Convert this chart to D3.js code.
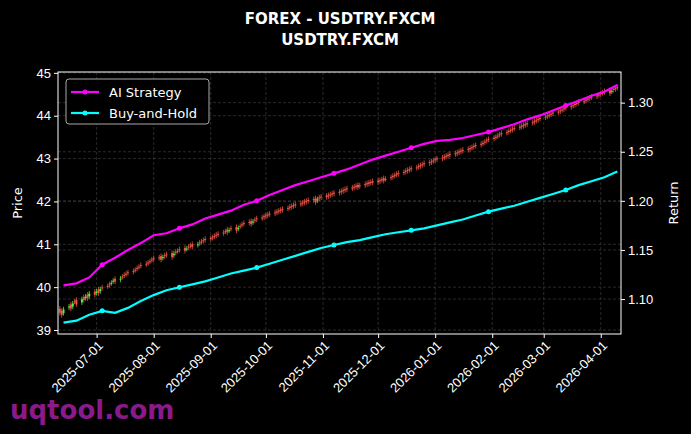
<!DOCTYPE html>
<html><head><meta charset="utf-8">
<script src="https://cdn.jsdelivr.net/npm/d3@7"></script>
<style>body{margin:0;background:#000}svg{font-family:"DejaVu Sans",sans-serif}</style>
</head><body><svg id="c" width="691" height="434"></svg>
<script>
// data
const dayStart = '2025-06-11';
const closes = [
  39.40,39.35,39.48,39.55,39.50,39.62,39.66,39.60,39.72,39.70,39.78,39.74,39.85,39.82,
  39.90,39.86,39.95,39.98,40.02,40.05,40.10,40.15,40.13,40.20,40.24,40.27,40.30,40.33,40.36,40.40,40.43,40.47,40.50,40.53,40.56,40.60,40.63,
  40.65,40.68,40.64,40.70,40.72,40.75,40.70,40.78,40.80,40.84,40.87,40.85,40.90,40.93,40.96,40.94,41.00,41.02,41.05,41.08,41.10,
  41.12,41.15,41.18,41.20,41.23,41.26,41.30,41.28,41.33,41.36,41.32,41.38,41.42,41.45,41.48,41.50,41.47,41.53,41.56,41.58,41.61,41.63,
  41.65,41.67,41.70,41.72,41.74,41.76,41.78,41.80,41.83,41.85,41.87,41.89,41.91,41.93,41.95,41.97,41.99,42.01,42.03,41.98,42.05,42.07,42.09,
  42.10,42.12,42.14,42.16,42.18,42.20,42.22,42.24,42.26,42.28,42.30,42.32,42.34,42.33,42.36,42.38,42.40,42.41,42.43,42.44,
  42.45,42.47,42.50,42.48,42.52,42.55,42.57,42.60,42.62,42.64,42.67,42.69,42.71,42.73,42.75,42.78,42.80,42.82,42.85,42.87,42.89,42.91,42.94,
  42.96,42.98,43.00,43.02,43.04,43.06,43.08,43.10,43.12,43.14,43.16,43.18,43.20,43.22,43.25,43.27,43.30,43.32,43.35,43.38,43.41,43.44,
  43.46,43.49,43.52,43.55,43.57,43.60,43.62,43.65,43.67,43.70,43.72,43.74,43.76,43.78,43.80,43.83,43.85,43.88,43.90,43.93,
  43.96,43.98,44.00,44.03,44.05,44.08,44.10,44.13,44.15,44.18,44.20,44.23,44.25,44.28,44.30,44.33,44.35,44.38,44.40,44.43,44.45,44.48,
  44.50,44.53,44.55,44.52,44.58,44.60,44.62,44.65
];
const weekStart = '2025-06-13';
const aiStrategy = [1.114,1.116,1.122,1.135,1.142,1.150,1.157,1.165,1.167,1.172,1.176,1.182,1.186,1.190,1.196,1.200,1.206,1.211,1.216,1.220,1.224,1.228,1.232,1.237,1.242,1.246,1.250,1.254,1.258,1.261,1.262,1.264,1.267,1.270,1.274,1.278,1.283,1.287,1.292,1.297,1.302,1.307,1.311,1.318];
const buyHold = [1.076,1.078,1.084,1.088,1.086,1.091,1.098,1.104,1.109,1.112,1.115,1.118,1.122,1.126,1.129,1.132,1.136,1.140,1.144,1.148,1.152,1.155,1.158,1.160,1.163,1.166,1.168,1.170,1.172,1.175,1.178,1.181,1.185,1.189,1.192,1.195,1.199,1.203,1.207,1.211,1.216,1.220,1.224,1.230];
const priceTicks = [39,40,41,42,43,44,45];
const returnTicks = [1.10,1.15,1.20,1.25,1.30];
const monthTicks = ['2025-07-01','2025-08-01','2025-09-01','2025-10-01','2025-11-01','2025-12-01','2026-01-01','2026-02-01','2026-03-01','2026-04-01'];

const parse = d3.utcParse('%Y-%m-%d');
// trading days (weekdays)
let days = [], d = parse(dayStart);
while (days.length < closes.length) {
  if (d.getUTCDay() % 6 != 0) days.push(d);
  d = d3.utcDay.offset(d, 1);
}
const candles = closes.map((c, i) => {
  let o = i ? closes[i-1] + 0.045 : c + 0.1;
  return {date: days[i], o, c, h: Math.max(o, c) + 0.06, l: Math.min(o, c) - 0.06};
});
const weeks = aiStrategy.map((v, i) => ({date: d3.utcDay.offset(parse(weekStart), 7*i), ai: v, bh: buyHold[i]}));

const svg = d3.select('#c');
const L = 58, R = 621, T = 72, B = 334;
const x = d3.scaleUtc().domain([parse('2025-06-10'), parse('2026-04-12')]).range([L, R]);
const y = d3.scaleLinear().domain([38.907, 45.02]).range([B, T]);
const y2 = d3.scaleLinear().domain([1.0644, 1.3312]).range([B, T]);

// grid
const grid = svg.append('g').attr('stroke', '#444').attr('stroke-dasharray', '3,2').attr('stroke-width', 0.6);
monthTicks.forEach(t => grid.append('line').attr('x1', x(parse(t))).attr('x2', x(parse(t))).attr('y1', T).attr('y2', B));
priceTicks.forEach(t => grid.append('line').attr('x1', L).attr('x2', R).attr('y1', y(t)).attr('y2', y(t)));
returnTicks.forEach(t => grid.append('line').attr('x1', L).attr('x2', R).attr('y1', y2(t)).attr('y2', y2(t)));

// candles
const cg = svg.append('g');
candles.forEach(k => {
  let col = k.c >= k.o ? '#55ee44' : '#ee5544';
  let cx = x(k.date);
  cg.append('line').attr('x1', cx).attr('x2', cx).attr('y1', y(k.h)).attr('y2', y(k.l)).attr('stroke', col).attr('stroke-width', 0.8);
  cg.append('rect').attr('x', cx - 1).attr('width', 2).attr('y', y(Math.max(k.o, k.c)))
    .attr('height', Math.max(1, Math.abs(y(k.o) - y(k.c)))).attr('fill', col);
});

// return lines
[['ai', '#ff00ff'], ['bh', '#00ffff']].forEach(([key, col]) => {
  svg.append('path').datum(weeks).attr('fill', 'none').attr('stroke', col).attr('stroke-width', 2.2)
    .attr('d', d3.line().x(w => x(w.date)).y(w => y2(w[key])));
  svg.selectAll(null).data(weeks.filter((w, i) => i % 6 == 3)).enter().append('circle')
    .attr('cx', w => x(w.date)).attr('cy', w => y2(w[key])).attr('r', 2.5).attr('fill', col);
});

// axes
const styleAxis = g => { g.selectAll('path,line').attr('stroke', '#fff'); g.selectAll('text').attr('fill', '#fff').attr('font-size', 13); g.select('.domain').remove(); };
svg.append('g').attr('transform', `translate(${L},0)`).call(d3.axisLeft(y).tickValues(priceTicks).tickSize(4).tickFormat(d3.format('d'))).call(styleAxis);
svg.append('g').attr('transform', `translate(${R},0)`).call(d3.axisRight(y2).tickValues(returnTicks).tickSize(4).tickFormat(d3.format('.2f'))).call(styleAxis);
svg.append('g').attr('transform', `translate(0,${B})`).call(d3.axisBottom(x).tickValues(monthTicks.map(parse)).tickSize(4).tickFormat(d3.utcFormat('%Y-%m-%d')))
  .call(styleAxis)
  .selectAll('text').attr('text-anchor', 'end').attr('dx', '-0.3em').attr('dy', '0.5em').attr('transform', 'rotate(-45)');
svg.append('rect').attr('x', L).attr('y', T).attr('width', R - L).attr('height', B - T).attr('fill', 'none').attr('stroke', '#fff');

// labels
svg.append('text').attr('transform', `translate(22,${(T+B)/2}) rotate(-90)`).attr('text-anchor', 'middle').attr('fill', '#fff').attr('font-size', 13).text('Price');
svg.append('text').attr('transform', `translate(678,${(T+B)/2}) rotate(-90)`).attr('text-anchor', 'middle').attr('fill', '#fff').attr('font-size', 13).text('Return');
svg.append('text').attr('x', 340).attr('y', 24).attr('text-anchor', 'middle').attr('fill', '#fff').attr('font-size', 15).attr('font-weight', 'bold').text('FOREX - USDTRY.FXCM');
svg.append('text').attr('x', 340).attr('y', 45).attr('text-anchor', 'middle').attr('fill', '#fff').attr('font-size', 15).attr('font-weight', 'bold').text('USDTRY.FXCM');

// legend
const lg = svg.append('g');
lg.append('rect').attr('x', 66).attr('y', 79).attr('width', 143).attr('height', 45).attr('rx', 3).attr('fill', '#000').attr('stroke', '#aaa');
[['AI Strategy', '#ff00ff'], ['Buy-and-Hold', '#00ffff']].forEach(([name, col], i) => {
  let ly = 92 + i * 21;
  lg.append('line').attr('x1', 71).attr('x2', 99).attr('y1', ly).attr('y2', ly).attr('stroke', col).attr('stroke-width', 2.2);
  lg.append('circle').attr('cx', 85).attr('cy', ly).attr('r', 2.5).attr('fill', col);
  lg.append('text').attr('x', 109).attr('y', ly + 4.5).attr('fill', '#fff').attr('font-size', 13).text(name);
});

svg.append('text').attr('x', 10).attr('y', 419).attr('fill', '#8a1a8a').attr('font-size', 26).attr('font-weight', 'bold').text('uqtool.com');
</script></body></html>
